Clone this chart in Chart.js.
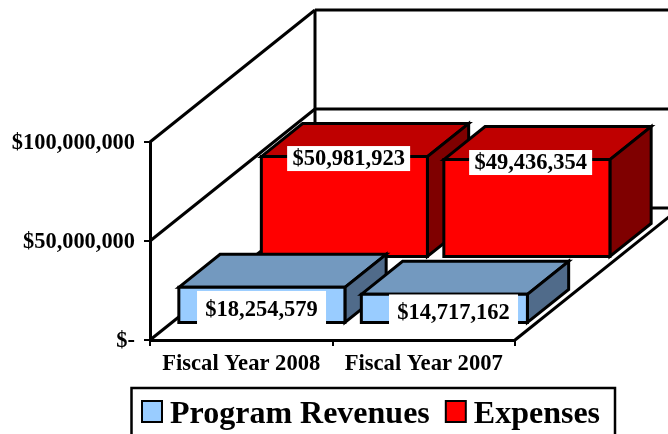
<!DOCTYPE html>
<html>
<head>
<meta charset="utf-8">
<style>html,body{margin:0;padding:0;background:#fff;overflow:hidden}canvas{display:block}</style>
<script src="https://cdn.jsdelivr.net/npm/chart.js@4"></script>
</head>
<body>
<canvas id="c" width="668" height="434"></canvas>
<script>
const categories = ['Fiscal Year 2008', 'Fiscal Year 2007'];
const programRevenues = [18254579, 14717162];
const expenses = [50981923, 49436354];
const yTicks = [0, 50000000, 100000000];

const FONT = '"Liberation Serif", "Times New Roman", serif';
const WALL = { dx: 165, dy: 132 };
const BAR_DEPTH = 0.25;
const INK = '#000';
const LW = 3;

const depthStyles = [
  { z: 0.125, top: '#7399BF', side: '#506B8A', labelOffset: [[-0.35, 21.6], [9.15, 18.1]], padX: 8.25, h: 36 },
  { z: 0.625, top: '#BF0000', side: '#7F0000', labelOffset: [[4.25, 2], [3.75, 2.9]], padX: 5.25, h: 25 }
];

const money = v => '$' + Math.round(v).toLocaleString('en-US');

function poly(ctx, pts, fill) {
  ctx.beginPath();
  pts.forEach((p, i) => i ? ctx.lineTo(p[0], p[1]) : ctx.moveTo(p[0], p[1]));
  ctx.closePath();
  if (fill) { ctx.fillStyle = fill; ctx.fill(); }
  ctx.lineWidth = LW; ctx.strokeStyle = INK; ctx.lineJoin = 'miter'; ctx.stroke();
}

const threeD = {
  id: 'threeD',
  afterLayout(chart) {
    const l = chart.legend;
    const w = l.right - l.left;
    l.left = 126; l.right = 126 + w;
    l.top = 384; l.bottom = 384 + l.height;
    l.adjustHitBoxes();
  },
  beforeDatasetsDraw(chart) {
    const { ctx, chartArea: a, scales: { y } } = chart;
    ctx.save();
    ctx.strokeStyle = INK; ctx.lineWidth = LW;
    const line = (x1, y1, x2, y2) => { ctx.beginPath(); ctx.moveTo(x1, y1); ctx.lineTo(x2, y2); ctx.stroke(); };
    yTicks.forEach(v => {
      const py = y.getPixelForValue(v);
      line(a.left, py, a.left + WALL.dx, py - WALL.dy);
      line(a.left + WALL.dx, py - WALL.dy, a.right + WALL.dx, py - WALL.dy);
    });
    line(a.left + WALL.dx, a.top - WALL.dy, a.left + WALL.dx, a.bottom - WALL.dy);
    line(a.right, a.bottom, a.right + WALL.dx, a.bottom - WALL.dy);
    ctx.restore();
  },
  beforeDatasetDraw(chart, args) {
    const s = depthStyles[args.index];
    chart.ctx.save();
    chart.ctx.translate(s.z * WALL.dx, -s.z * WALL.dy);
  },
  afterDatasetDraw(chart, args) {
    const { ctx } = chart;
    const s = depthStyles[args.index];
    const dx = BAR_DEPTH * WALL.dx, dy = BAR_DEPTH * WALL.dy;
    args.meta.data.forEach(el => {
      const L = el.x - el.width / 2, R = el.x + el.width / 2, T = el.y, B = el.base;
      poly(ctx, [[L, T], [L + dx, T - dy], [R + dx, T - dy], [R, T]], s.top);
      poly(ctx, [[R, T], [R + dx, T - dy], [R + dx, B - dy], [R, B]], s.side);
      el.draw(ctx);
      poly(ctx, [[L, T], [R, T], [R, B], [L, B]]);
    });
    ctx.restore();
  },
  afterDatasetsDraw(chart) {
    const { ctx } = chart;
    ctx.save();
    ctx.font = 'bold 22.5px ' + FONT;
    ctx.textAlign = 'center'; ctx.textBaseline = 'middle';
    chart.data.datasets.forEach((ds, i) => {
      const s = depthStyles[i];
      chart.getDatasetMeta(i).data.forEach((el, j) => {
        const t = money(ds.data[j]);
        const cx = el.x + s.z * WALL.dx + s.labelOffset[j][0];
        const cy = el.y - s.z * WALL.dy + s.labelOffset[j][1];
        const w = ctx.measureText(t).width + s.padX * 2;
        ctx.fillStyle = '#fff';
        ctx.fillRect(cx - w / 2, cy - s.h / 2, w, s.h);
        ctx.fillStyle = '#000';
        ctx.fillText(t, cx, cy + 1);
      });
    });
    ctx.restore();
  },
  afterDraw(chart) {
    const { ctx, legend } = chart;
    ctx.save();
    ctx.strokeStyle = INK; ctx.lineWidth = 2.5;
    ctx.strokeRect(131.5, 388, 483.5, 60);
    ctx.lineWidth = 2;
    legend.legendHitBoxes.forEach((b, i) => {
      const ds = chart.data.datasets[i];
      ctx.fillStyle = ds.backgroundColor;
      ctx.fillRect(b.left + 1, 401, 20, 21);
      ctx.strokeRect(b.left + 1, 401, 20, 21);
    });
    ctx.restore();
  }
};

new Chart(document.getElementById('c'), {
  type: 'bar',
  plugins: [threeD],
  data: {
    labels: categories,
    datasets: [
      { label: 'Program Revenues', data: programRevenues, backgroundColor: '#99CCFF', borderWidth: 0, clip: false, grouped: false, barPercentage: 0.91, categoryPercentage: 1 },
      { label: 'Expenses', data: expenses, backgroundColor: '#FF0000', borderWidth: 0, clip: false, grouped: false, barPercentage: 0.91, categoryPercentage: 1 }
    ]
  },
  options: {
    responsive: false,
    animation: false,
    layout: { padding: { left: 0, top: 142, right: 153, bottom: 0 } },
    plugins: {
      tooltip: { enabled: false },
      title: { display: false },
      legend: {
        position: 'bottom', align: 'start',
        labels: {
          boxWidth: 13, boxHeight: 13, padding: 15,
          font: { family: FONT, size: 32, weight: 'bold' }, color: '#000',
          generateLabels: c => c.data.datasets.map((d, i) => ({ text: d.label, fillStyle: 'rgba(0,0,0,0)', strokeStyle: 'rgba(0,0,0,0)', lineWidth: 0, datasetIndex: i }))
        }
      }
    },
    scales: {
      x: {
        offset: true,
        grid: { drawOnChartArea: false, drawTicks: true, tickLength: 6, color: INK, lineWidth: 2, offset: true },
        border: { color: INK, width: LW },
        ticks: { font: { family: FONT, size: 22.6, weight: 'bold' }, color: '#000', padding: 5, maxRotation: 0, autoSkip: false },
        afterFit(s) { s.height = 94 - s.chart.legend.height; }
      },
      y: {
        min: 0, max: 100000000,
        afterBuildTicks(s) { s.ticks = yTicks.map(v => ({ value: v })); },
        grid: { drawOnChartArea: false, drawTicks: true, tickLength: 6, color: INK, lineWidth: 2 },
        border: { color: INK, width: LW },
        ticks: {
          font: { family: FONT, size: 22.4, weight: 'bold' }, color: '#000', padding: 9, labelOffset: 1.5,
          callback: v => v === 0 ? '$-' : money(v)
        },
        afterFit(s) { s.width = 150; }
      }
    }
  }
});
</script>
</body>
</html>
